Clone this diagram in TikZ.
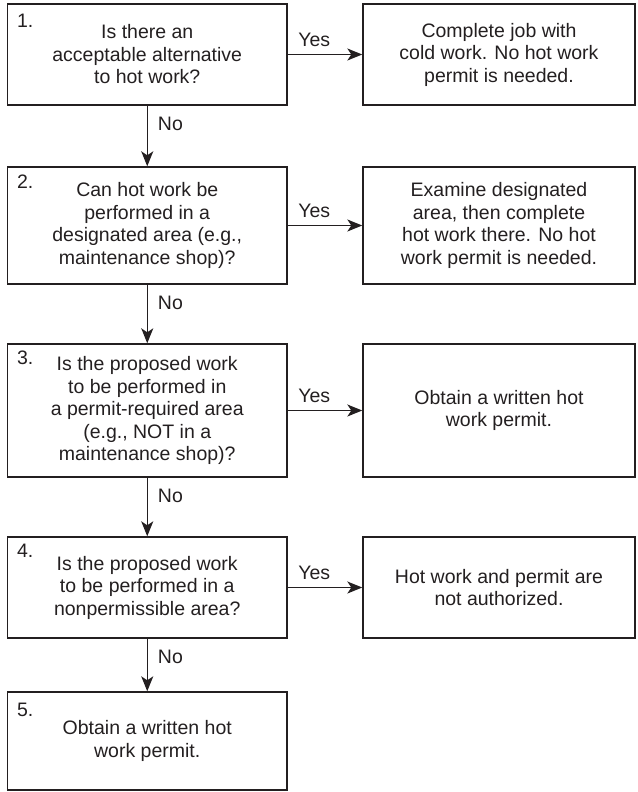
\documentclass[tikz,border=0pt]{standalone}
\usepackage{fontspec}
\setmainfont{Liberation Sans}
\usetikzlibrary{arrows.meta}
\definecolor{ink}{HTML}{231F20}
\begin{document}
\begin{tikzpicture}[x=1pt,y=-1pt,
  box/.style={draw=ink, line width=1.4pt, rectangle, inner sep=0pt, align=center,
    text=ink, font=\fontsize{19.5}{22.5}\selectfont},
  num/.style={anchor=base west, inner sep=0pt, text=ink, font=\fontsize{19.5}{22.5}\selectfont},
  lbl/.style={inner sep=0pt, text=ink, font=\fontsize{19.5}{22.5}\selectfont},
  conn/.style={draw=ink, line width=1.4pt, -{Stealth[length=15pt,width=12pt,inset=4pt]}}]
\useasboundingbox (0,0) rectangle (637,792);
% left column boxes
\node[box, minimum width=279.5pt, minimum height=101pt] (b1) at (147.25,54.5)
  {Is there an\\acceptable alternative\\to hot work?};
\node[box, minimum width=279.5pt, minimum height=117pt] (b2) at (147.25,225.5)
  {Can hot work be\\performed in a\\designated area (e.g.,\\maintenance shop)?};
\node[box, minimum width=279.5pt, minimum height=133pt] (b3) at (147.25,410.5)
  {\raisebox{-2.5pt}{\parbox{260pt}{\centering Is the proposed work\\to be performed in\\a permit-required area\\(e.g., NOT in a\\maintenance shop)?}}};
\node[box, minimum width=279.5pt, minimum height=101pt] (b4) at (147.25,587.5)
  {Is the proposed work\\to be performed in a\\nonpermissible area?};
\node[box, minimum width=279.5pt, minimum height=98pt] (b5) at (147.25,741)
  {\raisebox{-4pt}{\parbox{260pt}{\centering Obtain a written hot\\work permit.}}};
% right column boxes
\node[box, minimum width=272pt, minimum height=101pt] (r1) at (499,54.5)
  {Complete job with\\cold work. No hot work\\permit is needed.};
\node[box, minimum width=272pt, minimum height=117pt] (r2) at (499,225.5)
  {Examine designated\\area, then complete\\hot work there. No hot\\work permit is needed.};
\node[box, minimum width=272pt, minimum height=133pt] (r3) at (499,410.5)
  {\raisebox{-3pt}{\parbox{250pt}{\centering Obtain a written hot\\work permit.}}};
\node[box, minimum width=272pt, minimum height=101pt] (r4) at (499,587.5)
  {Hot work and permit are\\not authorized.};
% numbers
\node[num] (n1) at ([shift={(10pt,-24pt)}]b1.north west) {1.};
\node[num] (n2) at ([shift={(10pt,-22pt)}]b2.north west) {2.};
\node[num] (n3) at ([shift={(10pt,-21pt)}]b3.north west) {3.};
\node[num] (n4) at ([shift={(10pt,-21pt)}]b4.north west) {4.};
\node[num] (n5) at ([shift={(10pt,-25pt)}]b5.north west) {5.};
% No connectors
\foreach \a/\b in {b1/b2,b2/b3,b3/b4,b4/b5}{
  \draw[conn] (\a.south) -- (\b.north)
    node[lbl, at start, anchor=base west, xshift=10pt, yshift=-24.5pt] {No};
}
% Yes connectors
\foreach \a/\b in {b1/r1,b2/r2,b3/r3,b4/r4}{
  \draw[conn] (\a.east) -- (\b.west)
    node[lbl, at start, anchor=base west, xshift=10pt, yshift=8pt] {Yes};
}
\end{tikzpicture}
\end{document}
